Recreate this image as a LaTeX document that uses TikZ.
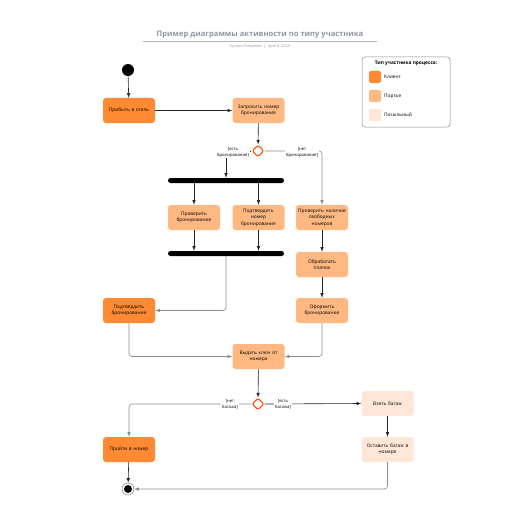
\documentclass[tikz,border=0pt]{standalone}
\usepackage{fontspec}
\setmainfont{Open Sans}
\usepackage{tikz}
\usetikzlibrary{shapes, arrows, positioning, calc}
\definecolor{client}{HTML}{FF8A33}
\definecolor{porter}{HTML}{FFB882}
\definecolor{bellboy}{HTML}{FFE7D8}
\definecolor{choice}{HTML}{FF5A0F}
\definecolor{title}{HTML}{8E95A3}
\begin{document}
\begin{tikzpicture}[x=1pt,y=-1pt,
	act/.style={rounded corners=3pt,minimum width=52pt,minimum height=25pt,text width=50pt,
		align=center,inner sep=1pt,font=\fontsize{4.8}{6.4}\selectfont},
	cl/.style={act,fill=client},
	pt/.style={act,fill=porter},
	bb/.style={act,fill=bellboy},
	bar/.style={fill=black,rounded corners=2.5pt,minimum width=116pt,minimum height=5pt,inner sep=0pt},
	choice/.style={diamond,draw=choice,fill=white,line width=1.1pt,minimum width=12pt,minimum height=12pt,
		inner sep=0pt,rounded corners=2pt},
	lbl/.style={fill=white,inner sep=1pt,align=center,font=\fontsize{4.2}{5.6}\selectfont},
	dk/.style={draw=black!85,line width=0.6pt,-latex},
	lt/.style={draw=black!45,line width=0.6pt,-latex,rounded corners=3pt},
	swatch/.style={rounded corners=2pt,minimum size=12pt,inner sep=0pt},
	key/.style={right,inner sep=0pt,font=\fontsize{4.8}{6}\selectfont}]
	\useasboundingbox (0,0) rectangle (516,516);
	\node[font=\bfseries\fontsize{7.6}{9}\selectfont,text=title] (head) at (260,35) {Пример диаграммы активности по типу участника};
	\draw[title!70,line width=0.6pt] (143,41.5) -- (377,41.5);
	\node[font=\fontsize{3.8}{4.5}\selectfont,text=title] (sub) at (260,47) {System Templates \ | \ April 8, 2025};
	\draw[black!45,rounded corners=3pt,line width=0.5pt] (362,57) rectangle (450,127);
	\node[font=\bfseries\fontsize{4.8}{6}\selectfont] (keyhead) at (406,63) {Тип участника процесса:};
	\node[swatch,fill=client] (sw1) at (375,77) {};
	\node[swatch,fill=porter] (sw2) at (375,96) {};
	\node[swatch,fill=bellboy] (sw3) at (375,115) {};
	\node[key] at (384,77) {Клиент};
	\node[key] at (384,96) {Портье};
	\node[key] at (384,115) {Посыльный};
	\node[circle,fill=black,minimum size=12pt,inner sep=0pt] (start) at (128,70) {};
	\node[cl] (arrive) at (129,110.5) {Прибыть в отель};
	\node[pt] (request) at (258.5,110.5) {Запросить номер\\бронирования};
	\node[choice] (dec1) at (258,151) {};
	\node[bar] (fork) at (226,180.5) {};
	\node[pt] (check) at (194,217.5) {Проверить\\бронирование};
	\node[pt] (confirm) at (258.5,217.5) {Подтвердить\\номер\\бронирования};
	\node[pt] (vacancy) at (322,217.5) {Проверить наличие\\свободных\\номеров};
	\node[bar] (join) at (226,253.5) {};
	\node[pt] (payment) at (322,264.5) {Обработать\\платеж};
	\node[cl] (confbook) at (129,310.5) {Подтвердить\\бронирование};
	\node[pt] (register) at (322,310.5) {Оформить\\бронирование};
	\node[pt] (givekey) at (258.5,356.5) {Выдать ключ от\\номера};
	\node[choice] (dec2) at (258,404) {};
	\node[bb] (takebag) at (387.5,403.5) {Взять багаж};
	\node[cl] (goroom) at (129,449.5) {Пройти в номер};
	\node[bb] (leavebag) at (387.5,449.5) {Оставить багаж в\\номере};
	\node[circle,draw=black!60,fill=white,minimum size=12pt,inner sep=0pt,line width=0.4pt] (finish) at (128,489) {};
	\fill[black] (finish) circle (4pt);
	\draw[dk] (start) -- (arrive);
	\draw[dk] (arrive) -- (request);
	\draw[dk] (request) -- (dec1);
	\draw[dk] (dec1.west) -| (fork.north);
	\draw[lt] (dec1.east) -| (vacancy.north);
	\draw[dk] (fork.south -| check) -- (check);
	\draw[dk] (fork.south -| confirm) -- (confirm);
	\draw[dk] (check) -- (check |- join.north);
	\draw[dk] (confirm) -- (confirm |- join.north);
	\draw[lt] (join.south) |- (confbook.east);
	\draw[dk] (vacancy) -- (payment);
	\draw[dk] (payment) -- (register);
	\draw[lt] (confbook.south) |- (givekey.west);
	\draw[lt] (register.south) |- (givekey.east);
	\draw[dk] (givekey) -- (dec2);
	\draw[lt] (dec2.west) -| (goroom.north);
	\draw[dk] (dec2.east) -- (takebag.west);
	\draw[dk] (takebag) -- (leavebag);
	\draw[dk] (goroom) -- (finish);
	\draw[lt] (leavebag.south) |- (finish.east);
	\node[lbl] (hasbook) at (233,152.5) {[есть\\бронирования]};
	\node[lbl] (nobook) at (302,152.5) {[нет\\бронирования]};
	\node[lbl] (nobag) at (230,404.5) {[нет\\багажа]};
	\node[lbl] (hasbag) at (283,404.5) {[есть\\багажа]};
\end{tikzpicture}
\end{document}
